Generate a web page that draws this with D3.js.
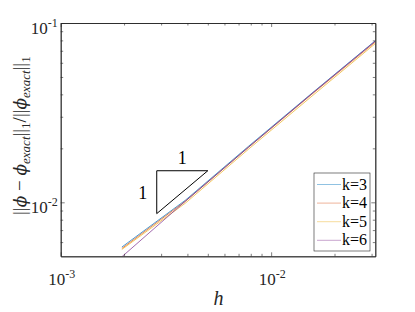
<!DOCTYPE html>
<html>
<head>
<meta charset="utf-8">
<script src="https://cdn.jsdelivr.net/npm/d3@7"></script>
<style>
  body { margin: 0; background: #fff; }
</style>
</head>
<body>
<div id="chart"></div>
<script>
// grid sizes h = 1/512 ... 1/32
const hValues = [1/512, 1/256, 1/128, 1/64, 1/32];
const seriesNames = ['k=3', 'k=4', 'k=5', 'k=6'];
const errK3 = [0.00563, 0.01026, 0.02055, 0.0406, 0.0796];
const errK4 = [0.00553, 0.01013, 0.0203, 0.0401, 0.0783];
const errK5 = [0.00546, 0.00988, 0.0198, 0.0391, 0.0768];
const errK6 = [0.00497, 0.01013, 0.0203, 0.0404, 0.0793];
const colors = ['#0072BD', '#D95319', '#EDB120', '#7E2F8E'];
const xMajor = [1e-3, 1e-2];
const yMajor = [1e-2, 1e-1];
const xMinor = [2e-3, 3e-3, 4e-3, 5e-3, 6e-3, 7e-3, 8e-3, 9e-3, 2e-2, 3e-2];
const yMinor = [6e-3, 7e-3, 8e-3, 9e-3, 2e-2, 3e-2, 4e-2, 5e-2, 6e-2, 7e-2, 8e-2, 9e-2];
// slope triangle corners (h, err)
const triangle = [[0.00286, 0.00865], [0.00286, 0.015], [0.005, 0.015]];

const W = 415, H = 312;
const MARGIN = {TOP: 23, LEFT: 60.7, RIGHT: 39.7, BOTTOM: 55.7};
const FONT = 'Liberation Serif';

const svg = d3.select('#chart').append('svg')
  .attr('width', W).attr('height', H);

const x = d3.scaleLog().domain([1e-3, 1/32]).range([MARGIN.LEFT, W - MARGIN.RIGHT]);
const y = d3.scaleLog().domain([0.005, 0.1]).range([H - MARGIN.BOTTOM, MARGIN.TOP]);

const series = [errK3, errK4, errK5, errK6].map((vals, i) => ({
  name: seriesNames[i], color: colors[i],
  points: hValues.map((h, j) => [h, vals[j]])
}));

// clip for lines
svg.append('clipPath').attr('id', 'clip')
  .append('rect')
  .attr('x', x.range()[0]).attr('y', y.range()[1])
  .attr('width', x.range()[1] - x.range()[0])
  .attr('height', y.range()[0] - y.range()[1]);

const line = d3.line().x(d => x(d[0])).y(d => y(d[1]));

svg.append('g').attr('clip-path', 'url(#clip)')
  .selectAll('path').data(series).enter().append('path')
  .attr('d', d => line(d.points))
  .attr('fill', 'none')
  .attr('stroke', d => d.color)
  .attr('stroke-opacity', 0.8)
  .attr('stroke-width', 0.9);

// axes (ticks point inward, box on)
function styleAxis(g) {
  g.select('.domain').attr('stroke', '#262626').attr('stroke-width', 0.8);
  g.selectAll('.tick line').attr('stroke', '#262626').attr('stroke-width', 0.6);
}
const bottomY = y.range()[0], topY = y.range()[1];
const leftX = x.range()[0], rightX = x.range()[1];

[[d3.axisBottom, bottomY], [d3.axisTop, topY]].forEach(([ax, pos]) => {
  svg.append('g').attr('transform', `translate(0,${pos})`)
    .call(ax(x).tickValues(xMinor).tickSize(-2.5).tickSizeOuter(0).tickFormat(''))
    .call(styleAxis);
  svg.append('g').attr('transform', `translate(0,${pos})`)
    .call(ax(x).tickValues(xMajor).tickSize(-4).tickSizeOuter(0).tickFormat(''))
    .call(styleAxis);
});
[[d3.axisLeft, leftX], [d3.axisRight, rightX]].forEach(([ax, pos]) => {
  svg.append('g').attr('transform', `translate(${pos},0)`)
    .call(ax(y).tickValues(yMinor).tickSize(-2.5).tickSizeOuter(0).tickFormat(''))
    .call(styleAxis);
  svg.append('g').attr('transform', `translate(${pos},0)`)
    .call(ax(y).tickValues(yMajor).tickSize(-4).tickSizeOuter(0).tickFormat(''))
    .call(styleAxis);
});

// tick labels as 10^n
function powLabel(sel, v) {
  const e = Math.round(Math.log10(v));
  sel.append('tspan').attr('font-size', 17).text('10');
  sel.append('tspan').attr('font-size', 12).attr('dy', -7).text(String(e));
}
xMajor.forEach(v => {
  const t = svg.append('text').attr('x', x(v) + 1).attr('y', bottomY + 29)
    .attr('text-anchor', 'middle').attr('fill', '#262626').attr('font-family', FONT);
  powLabel(t, v);
});
yMajor.forEach(v => {
  const t = svg.append('text').attr('x', leftX - 3).attr('y', y(v) + 11)
    .attr('text-anchor', 'end').attr('fill', '#262626').attr('font-family', FONT);
  powLabel(t, v);
});

// axis titles
svg.append('text')
  .attr('x', (leftX + rightX) / 2 + 0.5).attr('y', 305)
  .attr('text-anchor', 'middle').attr('fill', '#262626')
  .attr('font-family', FONT)
  .attr('font-size', 20).attr('font-style', 'italic')
  .text('h');

const yl = svg.append('text')
  .attr('transform', `translate(26,${(topY + bottomY) / 2 - 4}) rotate(-90)`)
  .attr('text-anchor', 'middle').attr('fill', '#262626')
  .attr('font-family', FONT)
  .attr('font-size', 19);
const ylParts = [
  ['||', 0, false, 19], ['ϕ', 0, true, 19], [' − ', 0, false, 19], ['ϕ', 0, true, 19],
  ['exact', 4, true, 13], ['||', -4, false, 19], ['1', 4, false, 13],
  ['/||', -4, false, 19], ['ϕ', 0, true, 19], ['exact', 4, true, 13],
  ['||', -4, false, 19], ['1', 4, false, 13]
];
ylParts.forEach(([s, dy, it, fs]) => {
  const ts = yl.append('tspan').attr('dy', dy).attr('font-size', fs)
    .attr('font-style', it ? 'italic' : 'normal').text(s);
  if (s === 'ϕ') ts.attr('font-family', 'DejaVu Serif').attr('font-size', 17);
});

// slope triangle
svg.append('path')
  .attr('d', d3.line().x(d => x(d[0])).y(d => y(d[1])).curve(d3.curveLinearClosed)(triangle))
  .attr('fill', 'none').attr('stroke', '#000').attr('stroke-width', 1);
svg.append('text')
  .attr('x', (x(triangle[1][0]) + x(triangle[2][0])) / 2)
  .attr('y', y(triangle[1][1]) - 7)
  .attr('text-anchor', 'middle').attr('font-size', 18).attr('fill', '#000')
  .attr('font-family', FONT).text('1');
svg.append('text')
  .attr('x', x(triangle[0][0]) - 14)
  .attr('y', (y(triangle[0][1]) + y(triangle[1][1])) / 2 + 7)
  .attr('text-anchor', 'middle').attr('font-size', 18).attr('fill', '#000')
  .attr('font-family', FONT).text('1');

// legend
const lg = svg.append('g').attr('transform', 'translate(314,173)');
lg.append('rect').attr('width', 56).attr('height', 78)
  .attr('fill', '#fff').attr('stroke', '#262626').attr('stroke-width', 0.6);
const rows = lg.selectAll('g.row').data(series).enter().append('g')
  .attr('transform', (d, i) => `translate(0,${11.5 + i * 18.6})`);
rows.append('line').attr('x1', 3).attr('x2', 27)
  .attr('stroke', d => d.color).attr('stroke-opacity', 0.55).attr('stroke-width', 0.8);
rows.append('text').attr('x', 28).attr('y', 5)
  .attr('font-family', FONT)
  .attr('font-size', 16).attr('fill', '#000').text(d => d.name);
</script>
</body>
</html>
